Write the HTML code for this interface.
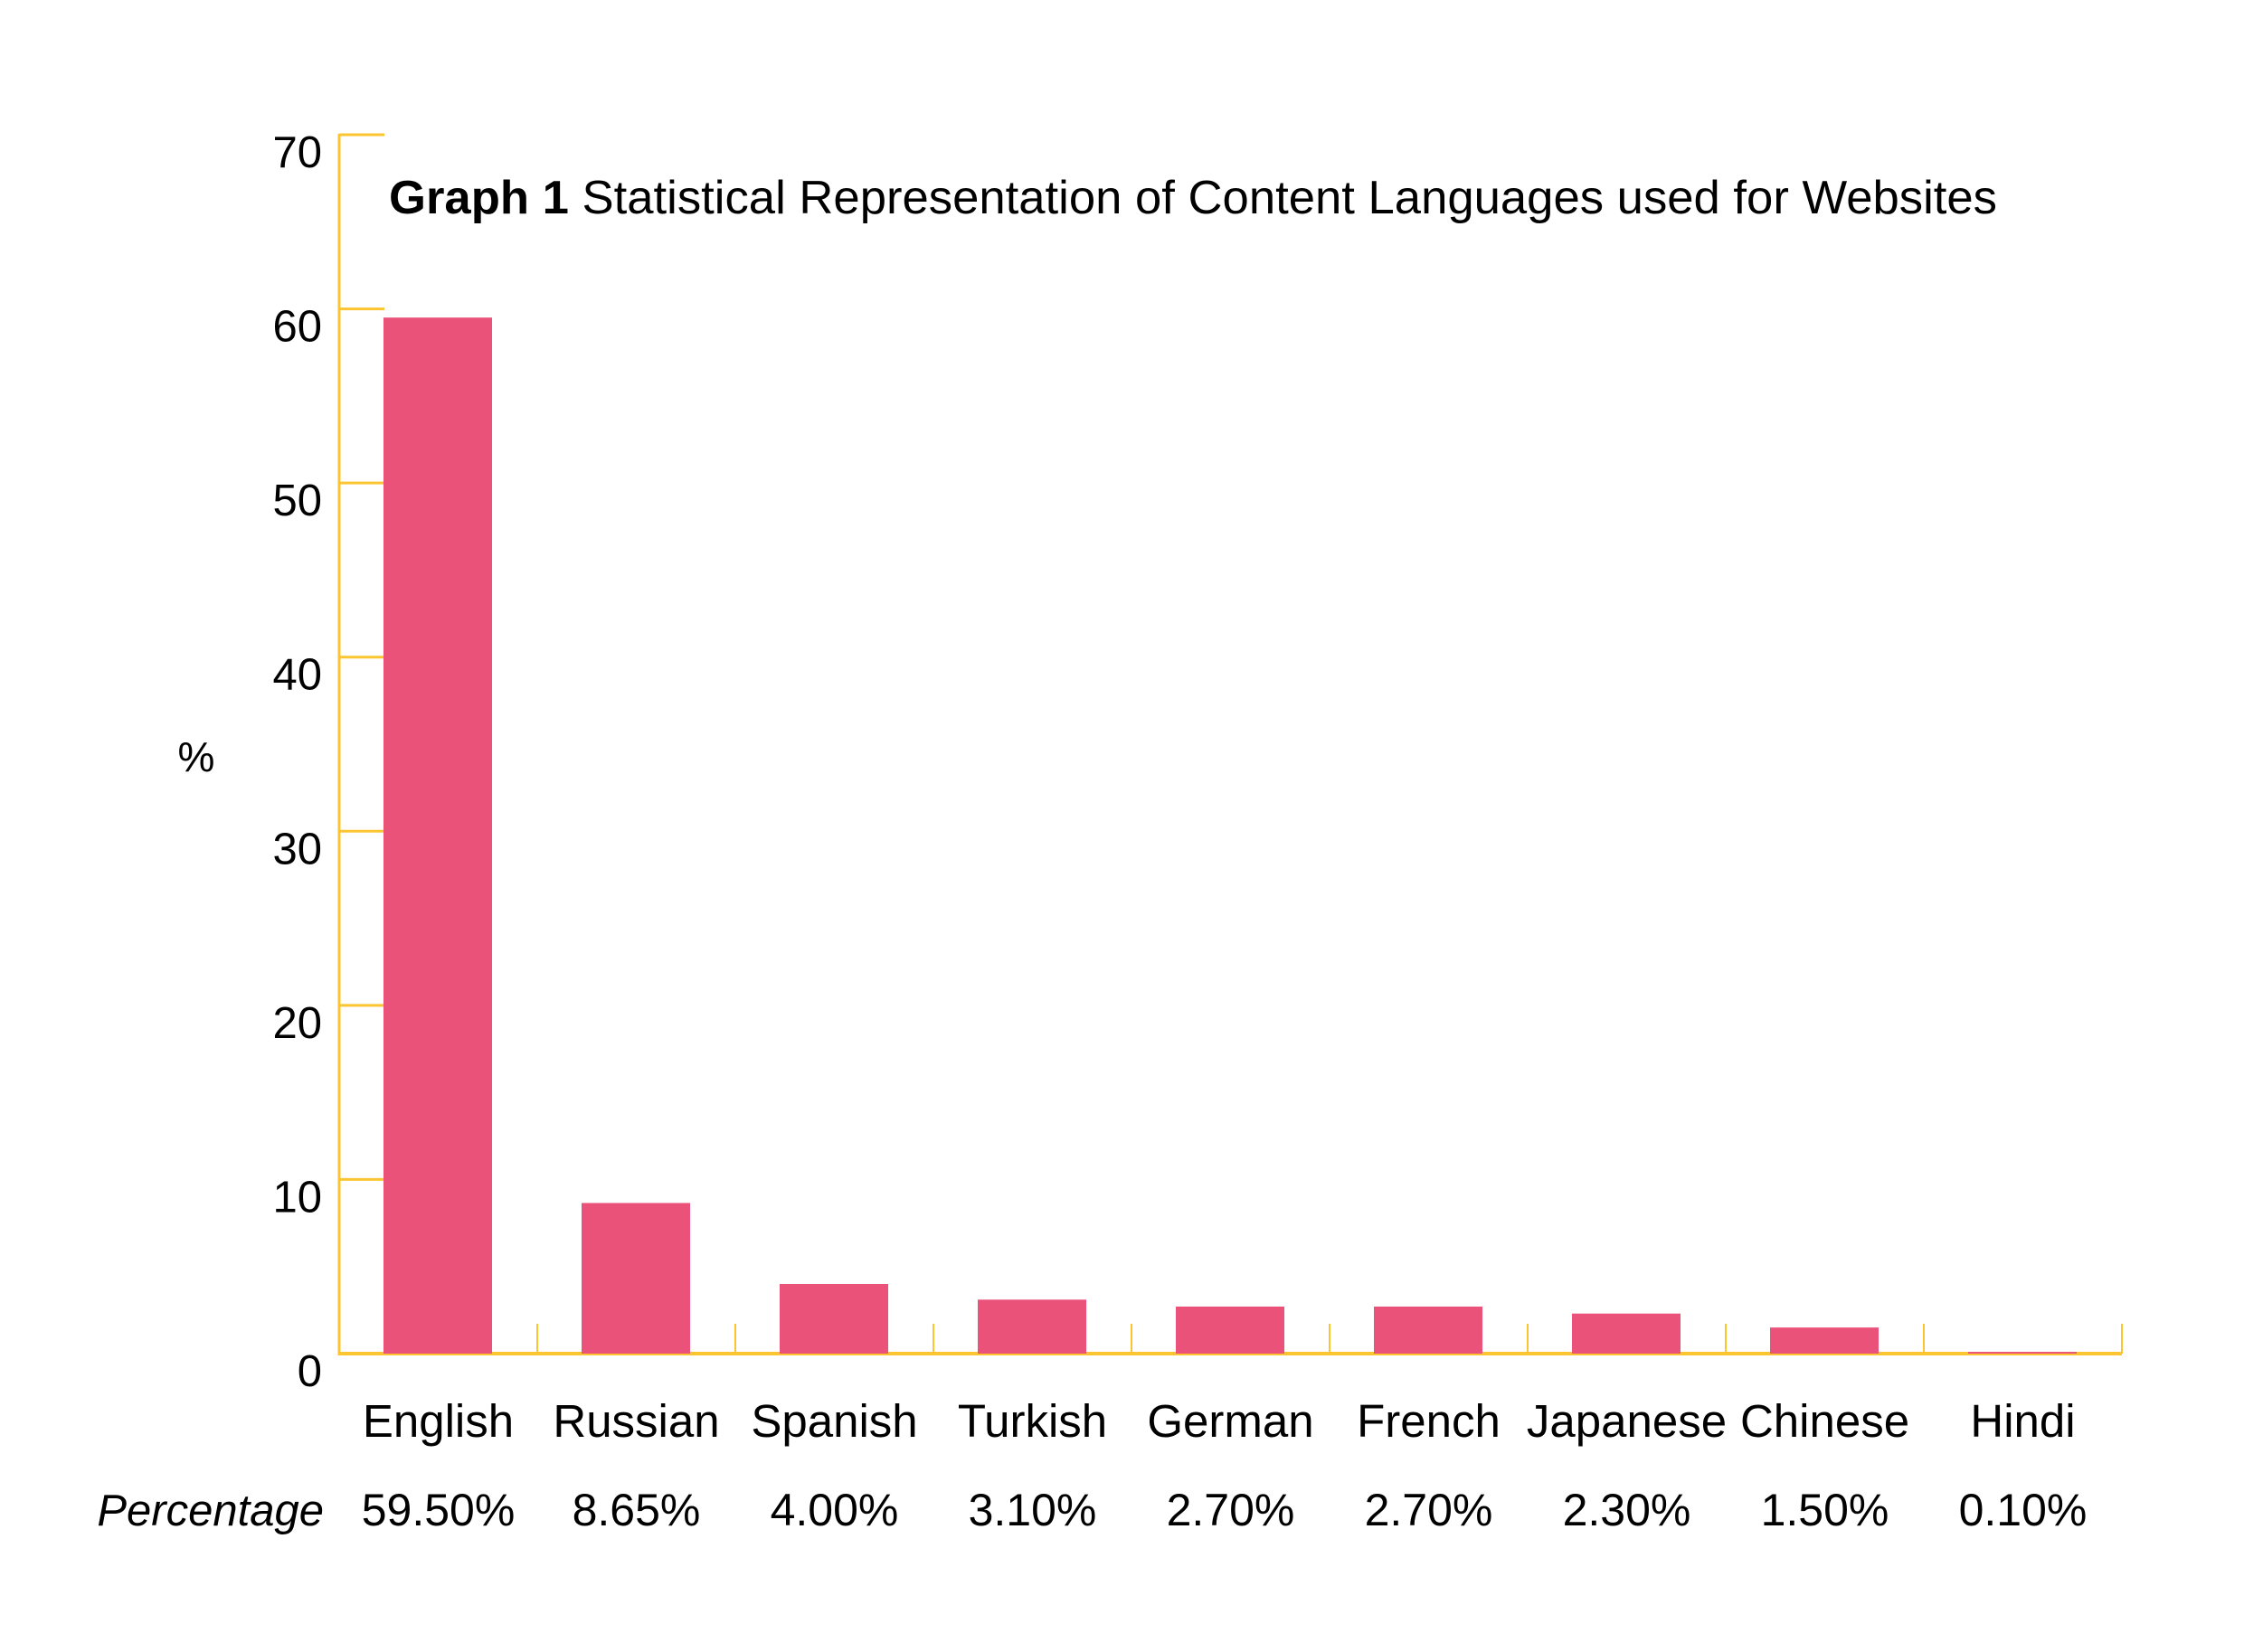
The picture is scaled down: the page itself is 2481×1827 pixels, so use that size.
<!DOCTYPE html>
<html><head><meta charset="utf-8"><style>
html,body{margin:0;padding:0;background:#fff;}
svg{display:block;font-family:"Liberation Sans",sans-serif;}
</style></head><body>
<svg id="chart" width="2481" height="1827" viewBox="0 0 2481 1827" xmlns="http://www.w3.org/2000/svg">
<text x="430" y="236" font-size="52" fill="#000" textLength="1778" lengthAdjust="spacingAndGlyphs"><tspan font-weight="bold">Graph 1</tspan> Statistical Representation of Content Languages used for Websites</text>
<text x="217" y="853" font-size="46" text-anchor="middle" fill="#000">%</text>
<text x="358" y="1687" font-size="49" font-style="italic" text-anchor="end" fill="#000">Percentage</text>
<g id="grid"></g><g id="bars"></g><g id="labels"></g>
</svg>
<script>
const categories=["English","Russian","Spanish","Turkish","German","French","Japanese","Chinese","Hindi"];
const values=[59.5,8.65,4.0,3.1,2.7,2.7,2.3,1.5,0.1];
const valueLabels=["59.50%","8.65%","4.00%","3.10%","2.70%","2.70%","2.30%","1.50%","0.10%"];
const yTicks=[0,10,20,30,40,50,60,70];
const NS="http://www.w3.org/2000/svg";
const x0=375,x1=2346,y0=1497,yTop=149,yMax=70;
const gw=(x1-x0)/categories.length;
const y=v=>y0-(v/yMax)*(y0-yTop);
const xg=i=>x0+i*gw;
const axisCol="#FBC531",barCol="#EA5279";
function mk(tag,attrs,parent){const e=document.createElementNS(NS,tag);for(const k in attrs)e.setAttribute(k,attrs[k]);parent.appendChild(e);return e;}
const grid=document.getElementById('grid'),bars=document.getElementById('bars'),labels=document.getElementById('labels');
let a=mk('line',{x1:x0,y1:yTop-1,x2:x0,y2:y0+2,stroke:axisCol,'stroke-width':3},grid);


a=mk('line',{x1:x0-1,y1:y0,x2:x1,y2:y0,stroke:axisCol,'stroke-width':4},grid);


yTicks.forEach(t=>{
  const yy=y(t);
  if(t>0){const l=mk('line',{x1:x0,y1:yy,x2:x0+50,y2:yy,stroke:axisCol,'stroke-width':3},grid);
  
  }
  const tx=mk('text',{x:356,y:yy+36,'font-size':49,'text-anchor':'end',fill:'#000'},labels);
  tx.textContent=t;
  
  
});
for(let i=1;i<=categories.length;i++){
  const l=mk('line',{x1:xg(i),y1:y0,x2:xg(i),y2:y0-33,stroke:axisCol,'stroke-width':2},grid);
  
  
}
categories.forEach((c,i)=>{
  const bx=xg(i)+49,bw=120;
  const r=mk('rect',{x:bx,y:y(values[i]),width:bw,height:y0-y(values[i]),fill:barCol},bars);
  
  
  const t=mk('text',{x:xg(i)+gw/2,y:1589,'font-size':51,'text-anchor':'middle',fill:'#000'},labels);
  t.textContent=c;
  
  
  const v=mk('text',{x:xg(i)+gw/2,y:1687,'font-size':50,'text-anchor':'middle',fill:'#000'},labels);
  v.textContent=valueLabels[i];
  
  
});
</script>
</body></html>
